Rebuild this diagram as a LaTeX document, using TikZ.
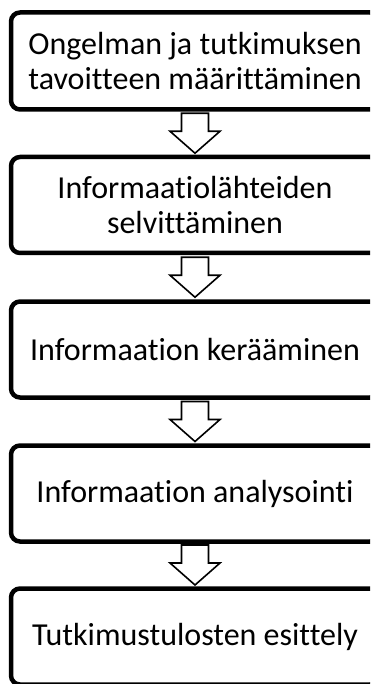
\documentclass[tikz,border=0pt]{standalone}
\usepackage{fontspec}
\setmainfont{Carlito}[Ligatures=NoCommon]
\begin{document}
\begin{tikzpicture}[x=1pt,y=-1pt,
  box/.style={draw=black, line width=4.5pt, rounded corners=9pt, fill=white,
    minimum width=368pt, minimum height=96pt, inner sep=0pt, align=center,
    font=\fontsize{32}{35}\selectfont, text=black},
  blockarrow/.pic={\draw[line width=1.6pt, fill=white, line join=miter]
    (-13.5,-20) -- (13.5,-20) -- (13.5,-2) -- (25,-2) -- (0,20) -- (-25,-2) -- (-13.5,-2) -- cycle;}]
\useasboundingbox (0,0) rectangle (370,684);
\clip (0,0) rectangle (370,684);
\node[box, minimum height=97pt] (b1) at (195,61) {Ongelman ja tutkimuksen\\tavoitteen määrittäminen};
\node[box] (b2) at (195,205) {Informaatiolähteiden\\selvittäminen};
\node[box] (b3) at (195,349.5) {Informaation kerääminen};
\node[box] (b4) at (195,493.5) {Informaation analysointi};
\node[box] (b5) at (195,636.5) {Tutkimustulosten esittely};
\foreach \a/\b in {b1/b2,b2/b3,b3/b4,b4/b5}{
  \path (\a.south) -- (\b.north) coordinate[midway] (m\a);
  \pic at (m\a) {blockarrow};
}
\end{tikzpicture}
\end{document}
